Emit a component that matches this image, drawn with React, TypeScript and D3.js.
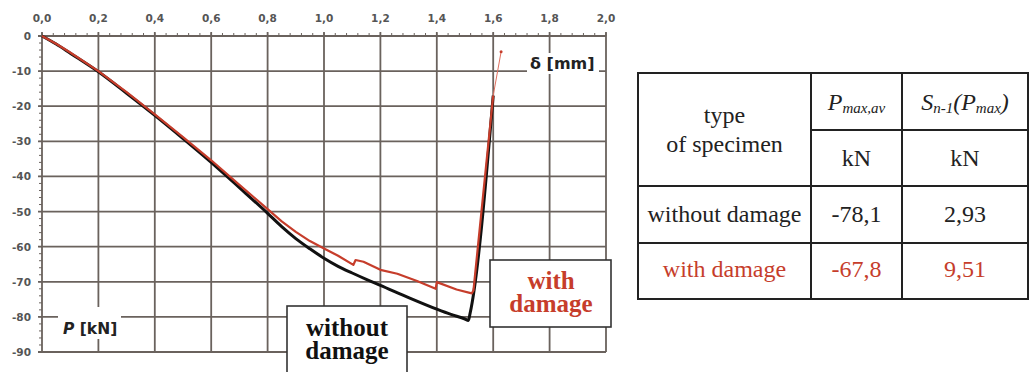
import React from 'react';
import * as d3 from 'd3';

// deflection [mm] / force [kN]
const noDamageX = [0, 0.05, 0.1, 0.2, 0.3, 0.4, 0.5, 0.6, 0.7, 0.8, 0.85, 0.9, 0.95, 1.0, 1.05, 1.1, 1.15, 1.2, 1.3, 1.4, 1.45, 1.5, 1.512, 1.518, 1.6];
const noDamageP = [0, -2.3, -4.9, -10.2, -16.3, -22.6, -29.2, -36, -43.2, -50.5, -54.3, -57.7, -60.6, -63.3, -65.6, -67.5, -69.3, -71, -74.5, -77.8, -79.3, -80.6, -81, -79, -17];

const damageX = [0, 0.05, 0.1, 0.2, 0.3, 0.4, 0.5, 0.6, 0.7, 0.8, 0.85, 0.9, 0.95, 1.0, 1.05, 1.104, 1.112, 1.14, 1.2, 1.26, 1.33, 1.396, 1.4, 1.47, 1.524, 1.53, 1.6];
const damageP = [0, -2.2, -4.7, -10, -16, -22.3, -28.8, -35.4, -42.4, -49.3, -52.8, -55.8, -58.4, -60.5, -62.6, -65.2, -63.8, -64.3, -66.6, -67.7, -69.8, -72, -70.1, -72.2, -73.3, -72.5, -17];
const damageTailX = [1.6, 1.628];
const damageTailP = [-17, -4.5];

const xTicks = [0, 0.2, 0.4, 0.6, 0.8, 1.0, 1.2, 1.4, 1.6, 1.8, 2.0];
const yTicks = [0, -10, -20, -30, -40, -50, -60, -70, -80, -90];

const specimenTypes = ['without damage', 'with damage'];
const pMaxAv = ['-78,1', '-67,8'];
const sPMax = ['2,93', '9,51'];

const RED = '#c63d2b';
const GRID = '#6a625d';
const LABEL = '#555';

const x = d3.scaleLinear().domain([0, 2]).range([42, 606]);
const y = d3.scaleLinear().domain([0, -90]).range([36, 352]);

const toPts = (xs: number[], ps: number[]) => xs.map((v, i) => [v, ps[i]] as [number, number]);
const smooth = d3.line<[number, number]>().x(d => x(d[0])).y(d => y(d[1])).curve(d3.curveMonotoneX);
const straight = d3.line<[number, number]>().x(d => x(d[0])).y(d => y(d[1]));

const fmt = (v: number) => v.toFixed(1).replace('.', ',');

export default function App() {
  const minorX = d3.range(0, 2.0001, 0.04);
  const minorY = d3.range(0, -90.0001, -2);
  const serif = '"Liberation Serif", "Times New Roman", serif';
  const sans = '"DejaVu Sans", sans-serif';

  // table geometry
  const tL = 638, tR = 1028, tT = 73, tB = 299;
  const c1 = 811, c2 = 902;
  const rSub = 130, r1 = 186, r2 = 243;
  const colMid = [(tL + c1) / 2, (c1 + c2) / 2, (c2 + tR) / 2];

  return (
    <svg width={1032} height={372} style={{ position: 'absolute', left: 0, top: 0, background: '#fff' }}>
      {/* grid */}
      <g stroke={GRID} strokeWidth={1.8}>
        {xTicks.map(t => (
          <line key={'gx' + t} x1={x(t)} x2={x(t)} y1={y(0) - 4} y2={y(-90)} />
        ))}
        {yTicks.map(t => (
          <line key={'gy' + t} x1={x(0) - 4} x2={x(2)} y1={y(t)} y2={y(t)} />
        ))}
      </g>
      <g stroke={GRID} strokeWidth={1}>
        {minorX.map((t, i) => (
          <line key={'mx' + i} x1={x(t)} x2={x(t)} y1={y(0) - 3} y2={y(0)} />
        ))}
        {minorY.map((t, i) => (
          <line key={'my' + i} x1={x(0) - 3} x2={x(0)} y1={y(t)} y2={y(t)} />
        ))}
      </g>

      {/* tick labels */}
      <g fontFamily={sans} fontWeight="bold" fontSize={10.5} fill={LABEL}>
        {xTicks.map(t => (
          <text key={'lx' + t} x={x(t)} y={22} textAnchor="middle">{fmt(t)}</text>
        ))}
        {yTicks.map(t => (
          <text key={'ly' + t} x={31} y={y(t) + 4} textAnchor="end">{t}</text>
        ))}
      </g>

      {/* axis titles */}
      <rect x={527} y={53} width={72} height={21} fill="#fff" />
      <text x={530} y={69} fontFamily={sans} fontWeight="bold" fontSize={16} fill="#222">δ [mm]</text>
      <rect x={58} y={307} width={63} height={32} fill="#fff" />
      <text x={63} y={334} fontFamily={sans} fontWeight="bold" fontSize={15.5} fill="#222">
        <tspan fontStyle="italic">P</tspan> [kN]
      </text>

      {/* curves */}
      <path d={smooth(toPts(noDamageX, noDamageP)) || ''} fill="none" stroke="#111" strokeWidth={3} strokeLinejoin="round" />
      <path d={straight(toPts(damageX, damageP)) || ''} fill="none" stroke={RED} strokeWidth={2.2} strokeLinejoin="round" />
      <path d={straight(toPts(damageTailX, damageTailP)) || ''} fill="none" stroke="#e0705f" strokeWidth={1} />
      <circle cx={x(damageTailX[1])} cy={y(damageTailP[1])} r={1.5} fill={RED} />

      {/* curve labels */}
      <rect x={287} y={306} width={120} height={70} fill="#fff" stroke="#333" strokeWidth={1.6} />
      <text fontFamily={serif} fontWeight="bold" fontSize={25} fill="#111" textAnchor="middle">
        <tspan x={347} y={336}>without</tspan>
        <tspan x={347} y={359}>damage</tspan>
      </text>
      <rect x={490} y={260} width={121} height={67} fill="#fff" stroke="#333" strokeWidth={1.6} />
      <text fontFamily={serif} fontWeight="bold" fontSize={25} fill={RED} textAnchor="middle">
        <tspan x={551} y={289}>with</tspan>
        <tspan x={551} y={312}>damage</tspan>
      </text>

      {/* table */}
      <g stroke="#222" strokeWidth={2} fill="none">
        <rect x={tL} y={tT} width={tR - tL} height={tB - tT} />
        <line x1={c1} x2={c1} y1={tT} y2={tB} />
        <line x1={c2} x2={c2} y1={tT} y2={tB} />
        <line x1={c1} x2={tR} y1={rSub} y2={rSub} />
        <line x1={tL} x2={tR} y1={r1} y2={r1} />
        <line x1={tL} x2={tR} y1={r2} y2={r2} />
      </g>
      <g fontFamily={serif} fontSize={24} fill="#222" textAnchor="middle">
        <text x={colMid[0]} y={123}>type</text>
        <text x={colMid[0]} y={152}>of specimen</text>
        <text x={colMid[1]} y={110} fontStyle="italic">
          P<tspan fontSize={15} dy={3}>max,av</tspan>
        </text>
        <text x={colMid[2]} y={110} fontStyle="italic">
          S<tspan fontSize={15} dy={3}>n-1</tspan><tspan dy={-3}>(P</tspan><tspan fontSize={15} dy={3}>max</tspan><tspan dy={-3}>)</tspan>
        </text>
        <text x={colMid[1]} y={166}>kN</text>
        <text x={colMid[2]} y={166}>kN</text>
        {specimenTypes.map((s, i) => {
          const base = i === 0 ? 222 : 277;
          const fill = i === 0 ? '#222' : RED;
          return (
            <g key={s} fill={fill}>
              <text x={colMid[0]} y={base}>{s}</text>
              <text x={colMid[1]} y={base}>{pMaxAv[i]}</text>
              <text x={colMid[2]} y={base}>{sPMax[i]}</text>
            </g>
          );
        })}
      </g>
    </svg>
  );
}
